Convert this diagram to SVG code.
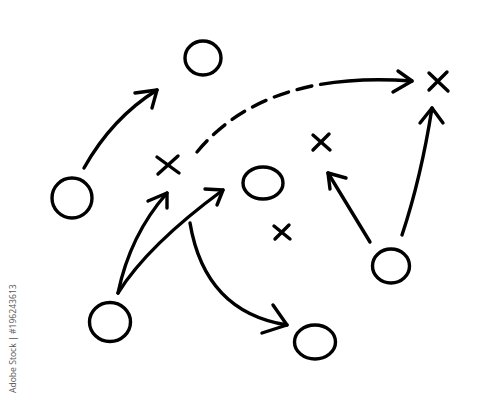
<svg xmlns="http://www.w3.org/2000/svg" width="500" height="400" viewBox="0 0 500 400">
<style>
.s{fill:none;stroke:#000;stroke-width:3.4;stroke-linecap:round;stroke-linejoin:round}
.wm{font-family:"Open Sans","Liberation Sans",sans-serif;font-size:8.6px;fill:#555}
</style>
<rect width="500" height="400" fill="#fff"/>
<g id="o-top"><ellipse class="s" cx="203" cy="58" rx="18" ry="17"/></g>
<g id="o-left"><ellipse class="s" cx="72" cy="198" rx="20" ry="20"/></g>
<g id="o-mid"><ellipse class="s" cx="263" cy="183" rx="20" ry="16"/></g>
<g id="o-botleft"><ellipse class="s" cx="110" cy="322" rx="20.5" ry="19.5"/></g>
<g id="o-botmid"><ellipse class="s" cx="315" cy="342" rx="20.5" ry="17"/></g>
<g id="o-right"><ellipse class="s" cx="391" cy="266" rx="18.5" ry="17"/></g>
<g id="x-center"><path class="s" d="M157,157 L179,173 M178,156 L158,174"/></g>
<g id="x-topright"><path class="s" d="M429,73 L448,91 M447,72 L429,90"/></g>
<g id="x-mid"><path class="s" d="M313,135 L330,150 M329,134 L313,150"/></g>
<g id="x-small"><path class="s" d="M274,226 L290,239 M289,225 L275,239"/></g>
<g id="connectors">
<path class="s" d="M84,168 Q112,118 157,90"/>
<polyline class="s" points="135,93 157,90 152,108"/>
<path class="s" d="M197,152 Q265,70 412,81" stroke-dasharray="15 9 15 9 15 9 15 9 15 9 15 9 400"/>
<polyline class="s" points="398,71 412,81 393,92"/>
<path class="s" d="M402,235 Q421,178 432,108"/>
<polyline class="s" points="420,123 432,108 443,123"/>
<path class="s" d="M370,242 L328,173"/>
<polyline class="s" points="330,189 328,173 346,178"/>
<path class="s" d="M118,293 Q130,235 167,193"/>
<polyline class="s" points="148,201 167,193 167,208"/>
<path class="s" d="M118,293 Q148,245 223,190"/>
<polyline class="s" points="205,189 223,190 217,205"/>
<path class="s" d="M190,223 Q205,312 287,325"/>
<polyline class="s" points="273,305 287,325 262,333"/>
</g>
<text class="wm" transform="translate(16,393) rotate(-90)">Adobe Stock | #196243613</text>
</svg>
